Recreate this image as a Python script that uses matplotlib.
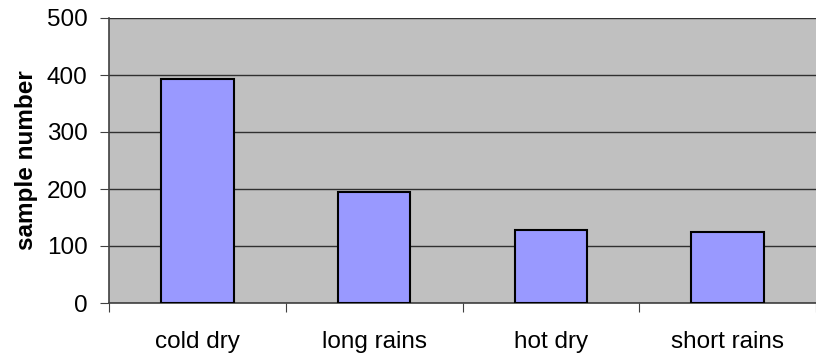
import numpy as np
import matplotlib.pyplot as plt

seasons = ["cold dry", "long rains", "hot dry", "short rains"]
samples = [393, 195, 128, 125]

plt.rcParams["font.family"] = ["Liberation Sans", "DejaVu Sans"]

fig = plt.figure(figsize=(8.16, 3.56), dpi=100)
ax = fig.add_axes([109 / 816, 1 - 303 / 356, 707 / 816, 285 / 356])
ax.set_facecolor("#c0c0c0")

x = np.arange(len(seasons))
ax.bar(x, samples, width=0.41, color="#9999ff", edgecolor="black", linewidth=1.5, zorder=3)

ax.set_xlim(-0.5, len(seasons) - 0.5)
ax.set_ylim(0, 500)
ax.set_yticks(np.arange(0, 501, 100))
ax.yaxis.grid(True, color="#303030", linewidth=1.0, zorder=0)

# category labels centred, tick marks on the boundaries between them
ax.set_xticks(np.arange(len(seasons) + 1) - 0.5)
ax.set_xticklabels([])
ax.set_xticks(x, minor=True)
ax.set_xticklabels(seasons, minor=True, fontsize=17.5)
ax.tick_params(axis="x", which="minor", length=0, pad=20)
ax.tick_params(axis="x", which="major", length=6.5, color="#404040")
ax.tick_params(axis="y", length=6.5, color="#404040", labelsize=17.5, pad=9)

for side in ("top", "right"):
    ax.spines[side].set_visible(False)
for side in ("left", "bottom"):
    ax.spines[side].set_color("#404040")
    ax.spines[side].set_linewidth(1.2)

ax.set_ylabel("sample number", fontsize=17.5, fontweight="bold", labelpad=6)

fig.savefig("out.png", dpi=100, facecolor="white")
